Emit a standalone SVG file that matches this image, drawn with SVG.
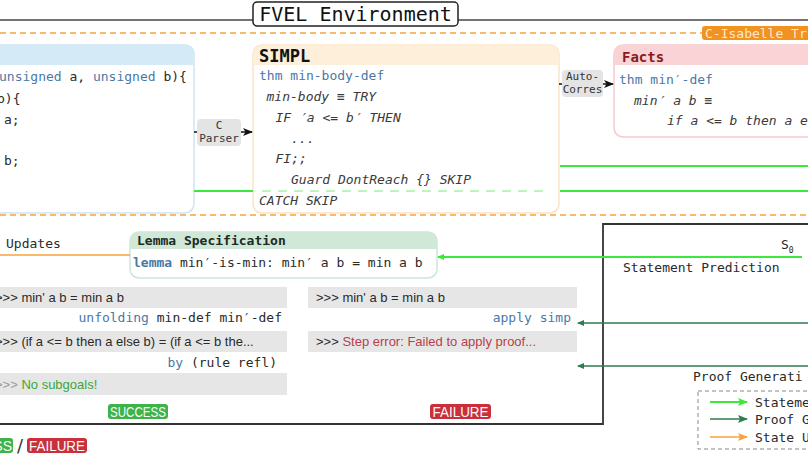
<svg xmlns="http://www.w3.org/2000/svg" width="808" height="455" viewBox="0 0 808 455">
<defs>
<marker id="ah-black" markerWidth="10" markerHeight="8" refX="9" refY="4" orient="auto" markerUnits="userSpaceOnUse"><path d="M0,0 L10,4 L0,8 L2.5,4 z" fill="#111"/></marker>
<marker id="ah-lg" markerWidth="7" markerHeight="6" refX="6" refY="3" orient="auto" markerUnits="userSpaceOnUse"><path d="M0,0 L7,3 L0,6 z" fill="#3de83d"/></marker>
<marker id="ah-dg" markerWidth="7" markerHeight="6" refX="6" refY="3" orient="auto" markerUnits="userSpaceOnUse"><path d="M0,0 L7,3 L0,6 z" fill="#2e7d4f"/></marker>
<marker id="ah-lg2" markerWidth="10" markerHeight="8" refX="9" refY="4" orient="auto" markerUnits="userSpaceOnUse"><path d="M0,0 L10,4 L0,8 L2,4 z" fill="#3de83d"/></marker>
<marker id="ah-dg2" markerWidth="10" markerHeight="8" refX="9" refY="4" orient="auto" markerUnits="userSpaceOnUse"><path d="M0,0 L10,4 L0,8 L2,4 z" fill="#2e7d4f"/></marker>
<marker id="ah-or2" markerWidth="10" markerHeight="8" refX="9" refY="4" orient="auto" markerUnits="userSpaceOnUse"><path d="M0,0 L10,4 L0,8 L2,4 z" fill="#f7a33c"/></marker>
</defs>
<style>
.code{font-family:"DejaVu Sans Mono","Liberation Mono",monospace;font-size:13px;fill:#2a2a2a}
.kw{fill:#4a78a6}
.it{font-style:italic;fill:#3a3a3a}
.sans{font-family:"Liberation Sans",Arial,sans-serif;font-size:13px;fill:#2a2a2a}
.lbl{font-family:"DejaVu Sans Mono","Liberation Mono",monospace;font-size:11px;fill:#333}
.title{font-family:"DejaVu Sans Mono","Liberation Mono",monospace;font-weight:bold}
.badge{font-family:"Liberation Sans",Arial,sans-serif;font-size:14px;fill:#fafafa}
.bar{fill:#e6e6e6}
.lblbox{fill:#e4e4e4}
.odash{stroke:#f5a33d;stroke-width:1.6;stroke-dasharray:6 4;fill:none}
.lg{stroke:#3de83d;stroke-width:2;fill:none}
.dg{stroke:#2e7d4f;stroke-width:1.5;fill:none}
.or{stroke:#f7a33c;stroke-width:1.5;fill:none}
</style>
<rect width="808" height="455" fill="#fff"/>

<!-- frame -->
<g id="frame">
<line x1="0" y1="20" x2="808" y2="20" stroke="#444" stroke-width="1.5"/>
<line class="odash" x1="0" y1="33" x2="702" y2="33"/>
<line class="odash" x1="0" y1="215" x2="808" y2="215"/>
<path d="M0,424 H603 V224 H810" fill="none" stroke="#333" stroke-width="1.8"/>
</g>

<g id="fvel-title">
<rect x="253" y="2" width="205" height="24" rx="4" fill="#fff" stroke="#222" stroke-width="1.5"/>
<text x="355.5" y="21" text-anchor="middle" font-family="DejaVu Sans Mono, monospace" font-size="20" fill="#111">FVEL Environment</text>
</g>

<g id="c-isabelle">
<rect x="702" y="26" width="110" height="14" rx="3" fill="#f29220"/>
<text x="705" y="37.5" class="code" style="fill:#fde9cf" font-size="13.5">C-Isabelle Tr</text>
</g>

<!-- C code node -->
<g id="c-code">
<rect x="-20" y="45" width="214" height="168" rx="9" fill="#fff" stroke="#cde5f3" stroke-width="1.5"/>
<path d="M-20,65 V54 a9,9 0 0 1 9,-9 H185 a9,9 0 0 1 9,9 V65 z" fill="#d4eaf7"/>
<text x="-1" y="81" class="code"><tspan class="kw">unsigned</tspan> a, <tspan class="kw">unsigned</tspan> b){</text>
<text x="-3" y="103" class="code">b){</text>
<text x="4" y="124" class="code">a;</text>
<text x="4" y="165" class="code">b;</text>
</g>

<!-- SIMPL node -->
<g id="simpl">
<rect x="253" y="45" width="306" height="168" rx="9" fill="#fff" stroke="#fbe3c4" stroke-width="1.5"/>
<path d="M253,65 V54 a9,9 0 0 1 9,-9 H550 a9,9 0 0 1 9,9 V65 z" fill="#fdefd9"/>
<text x="259" y="62" class="title" font-size="17" fill="#111">SIMPL</text>
<text x="259" y="80" class="code kw">thm min-body-def</text>
<text x="266.5" y="101" class="code it">min-body ≡ TRY</text>
<text x="275.5" y="122" class="code it">IF ′a &lt;= b′ THEN</text>
<text x="291" y="143" class="code it">...</text>
<text x="275.5" y="163" class="code it">FI;;</text>
<text x="291" y="184" class="code it">Guard DontReach {} SKIP</text>
<text x="259" y="205" class="code it">CATCH SKIP</text>
</g>

<!-- Facts node -->
<g id="facts">
<rect x="614" y="45" width="210" height="92" rx="9" fill="#fff" stroke="#f7c9cd" stroke-width="1.5"/>
<path d="M614,65 V54 a9,9 0 0 1 9,-9 H824 V65 z" fill="#f9d3d6"/>
<text x="622" y="62" class="title" font-size="14" fill="#8b1a1a">Facts</text>
<text x="619" y="84" class="code kw">thm min′-def</text>
<text x="634" y="105" class="code it">min′ a b ≡</text>
<text x="667" y="125" class="code it">if a &lt;= b then a e</text>
</g>

<!-- Lemma node -->
<g id="lemma">
<rect x="130" y="232" width="307" height="46" rx="9" fill="#fff" stroke="#cde6d6" stroke-width="1.5"/>
<path d="M130,249 V241 a9,9 0 0 1 9,-9 H428 a9,9 0 0 1 9,9 V249 z" fill="#cfe8d8"/>
<text x="137" y="245" class="title" font-size="13" fill="#1e2a22">Lemma Specification</text>
<text x="133" y="267" class="code"><tspan class="kw" font-weight="bold">lemma</tspan> min′-is-min: min′ a b = min a b</text>
</g>

<!-- success trace -->
<g id="trace-success">
<rect class="bar" x="-13" y="287" width="300" height="21"/>
<text x="-5" y="302" class="sans">&gt;&gt;&gt; min' a b = min a b</text>
<text x="282" y="322" text-anchor="end" class="code"><tspan class="kw">unfolding</tspan> min-def min′-def</text>
<rect class="bar" x="-13" y="331" width="300" height="21"/>
<text x="-5" y="346" class="sans">&gt;&gt;&gt; (if a &lt;= b then a else b) = (if a &lt;= b the...</text>
<text x="277" y="367" text-anchor="end" class="code"><tspan class="kw">by</tspan> (rule refl)</text>
<rect class="bar" x="-13" y="373" width="300" height="22"/>
<text x="-5" y="389" class="sans"><tspan fill="#9a9a9a">&gt;&gt;&gt;</tspan> <tspan fill="#3aa83a">No subgoals!</tspan></text>
<rect x="108" y="404" width="60" height="15" rx="3" fill="#3db34a"/>
<text x="138" y="416.5" text-anchor="middle" class="badge" textLength="56" lengthAdjust="spacingAndGlyphs">SUCCESS</text>
</g>

<!-- failure trace -->
<g id="trace-failure">
<rect class="bar" x="308" y="287" width="269" height="21"/>
<text x="316" y="302" class="sans">&gt;&gt;&gt; min' a b = min a b</text>
<text x="571" y="322" text-anchor="end" class="code kw">apply simp</text>
<rect class="bar" x="308" y="331" width="269" height="21"/>
<text x="316" y="346" class="sans">&gt;&gt;&gt; <tspan fill="#b8404a">Step error: Failed to apply proof...</tspan></text>
<rect x="430" y="404" width="61" height="15" rx="3" fill="#c9303b"/>
<text x="460.5" y="416.5" text-anchor="middle" class="badge" textLength="56" lengthAdjust="spacingAndGlyphs">FAILURE</text>
</g>

<!-- bottom-left key -->
<g id="result-key">
<rect x="-20" y="438" width="33" height="15" rx="3" fill="#3db34a"/>
<text x="12" y="450.5" text-anchor="end" class="badge">SS</text>
<text x="20" y="452" text-anchor="middle" font-family="DejaVu Sans, sans-serif" font-size="18" fill="#333">/</text>
<rect x="27" y="438" width="60" height="15" rx="3" fill="#c9303b"/>
<text x="57" y="450.5" text-anchor="middle" class="badge" textLength="56" lengthAdjust="spacingAndGlyphs">FAILURE</text>
</g>

<!-- agent panel labels -->
<g id="agent">
<text x="781" y="249" class="code" font-size="15">S<tspan font-size="8" dy="4">0</tspan></text>
<text x="623" y="272" class="code" font-size="14">Statement Prediction</text>
<text x="693" y="381" class="code" font-size="14">Proof Generati</text>
</g>

<text x="6" y="248" class="code" font-size="13.8">Updates</text>

<!-- legend -->
<g id="legend">
<rect x="698" y="391" width="130" height="58" fill="none" stroke="#888" stroke-width="1" stroke-dasharray="4 3"/>
<line x1="710" y1="402" x2="747" y2="402" class="lg" marker-end="url(#ah-lg2)"/>
<line x1="710" y1="419" x2="747" y2="419" class="dg" stroke-width="2" marker-end="url(#ah-dg2)"/>
<line x1="710" y1="437" x2="747" y2="437" class="or" stroke-width="2" marker-end="url(#ah-or2)"/>
<text x="755" y="407" class="code" font-size="14">Stateme</text>
<text x="755" y="424" class="code" font-size="14">Proof G</text>
<text x="755" y="442" class="code" font-size="14">State U</text>
</g>

<!-- connectors -->
<g id="connectors">
<line x1="194" y1="132" x2="252" y2="132" stroke="#111" stroke-width="1.5" marker-end="url(#ah-black)"/>
<rect class="lblbox" x="197" y="119" width="44" height="27" rx="4"/>
<text x="219" y="129" text-anchor="middle" class="lbl">C</text>
<text x="219" y="142" text-anchor="middle" class="lbl">Parser</text>

<line x1="559" y1="84" x2="613" y2="84" stroke="#111" stroke-width="1.5" marker-end="url(#ah-black)"/>
<rect class="lblbox" x="562" y="70" width="41" height="27" rx="4"/>
<text x="582.5" y="80" text-anchor="middle" class="lbl">Auto-</text>
<text x="582.5" y="93" text-anchor="middle" class="lbl">Corres</text>

<line x1="194" y1="191" x2="253" y2="191" class="lg"/>
<line x1="262" y1="191" x2="545" y2="191" stroke="#bdf3bd" stroke-width="2" stroke-dasharray="9 7"/>
<line x1="560" y1="191" x2="808" y2="191" class="lg"/>
<line x1="560" y1="166" x2="808" y2="166" class="lg"/>

<line x1="802" y1="257" x2="438" y2="257" class="lg" stroke-width="1.5" marker-end="url(#ah-lg)"/>
<line x1="0" y1="255" x2="130" y2="255" class="or"/>
<line x1="808" y1="323" x2="578" y2="323" class="dg" marker-end="url(#ah-dg)"/>
<line x1="808" y1="366" x2="578" y2="366" class="dg" marker-end="url(#ah-dg)"/>
</g>
</svg>
